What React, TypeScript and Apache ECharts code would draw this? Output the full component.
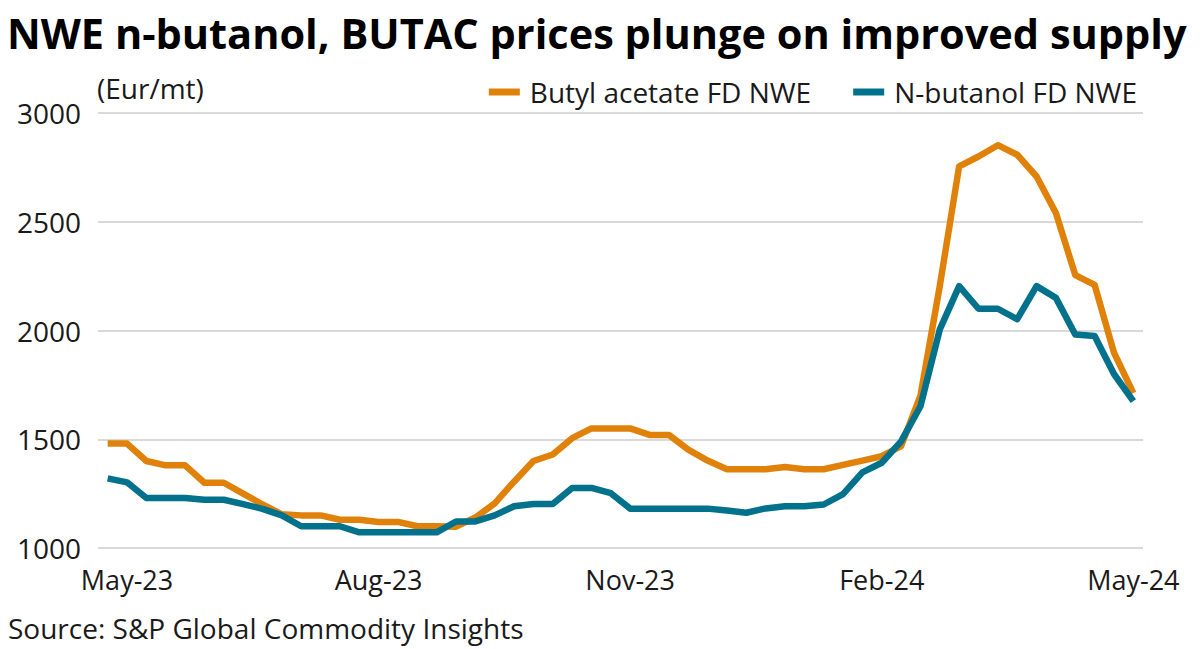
import React, { useEffect, useRef } from "react";
import * as echarts from "echarts";

const weeks = [
  "2023-04-28", "2023-05-05", "2023-05-12", "2023-05-19", "2023-05-26", "2023-06-02", "2023-06-09",
  "2023-06-16", "2023-06-23", "2023-06-30", "2023-07-07", "2023-07-14", "2023-07-21", "2023-07-28",
  "2023-08-04", "2023-08-11", "2023-08-18", "2023-08-25", "2023-09-01", "2023-09-08", "2023-09-15",
  "2023-09-22", "2023-09-29", "2023-10-06", "2023-10-13", "2023-10-20", "2023-10-27", "2023-11-03",
  "2023-11-10", "2023-11-17", "2023-11-24", "2023-12-01", "2023-12-08", "2023-12-15", "2023-12-22",
  "2023-12-29", "2024-01-05", "2024-01-12", "2024-01-19", "2024-01-26", "2024-02-02", "2024-02-09",
  "2024-02-16", "2024-02-23", "2024-03-01", "2024-03-08", "2024-03-15", "2024-03-22", "2024-03-29",
  "2024-04-05", "2024-04-12", "2024-04-19", "2024-04-26", "2024-05-03",
];

const butylAcetate = [
  1480, 1480, 1400, 1380, 1380, 1300, 1300, 1250, 1200, 1155, 1150, 1150, 1130, 1130,
  1120, 1120, 1100, 1100, 1098, 1140, 1205, 1305, 1400, 1430, 1505, 1550, 1550, 1550,
  1520, 1520, 1452, 1402, 1362, 1362, 1362, 1372, 1362, 1362, 1382, 1402, 1422, 1468,
  1700, 2205, 2755, 2800, 2852, 2808, 2708, 2540, 2255, 2210, 1898, 1712,
];

const nButanol = [
  1320, 1302, 1230, 1230, 1230, 1222, 1222, 1202, 1180, 1150, 1100, 1100, 1100, 1072,
  1072, 1072, 1072, 1072, 1122, 1122, 1150, 1192, 1202, 1202, 1276, 1276, 1252, 1181,
  1181, 1181, 1181, 1181, 1172, 1162, 1182, 1192, 1192, 1200, 1248, 1348, 1392, 1490,
  1652, 2005, 2204, 2100, 2100, 2052, 2204, 2150, 1982, 1975, 1800, 1675,
];

const tickIndices = [1, 14, 27, 40, 53];
const tickLabels = ["May-23", "Aug-23", "Nov-23", "Feb-24", "May-24"];

const FONT = "'Open Sans', Roboto, sans-serif";
const TEXT = "#1a1a1a";
const ORANGE = "#E0820A";
const BLUE = "#02718B";

export default function App() {
  const ref = useRef<HTMLDivElement>(null);
  useEffect(() => {
    if (!ref.current) return;
    const chart = echarts.init(ref.current, null, { renderer: "svg" });
    chart.setOption({
      animation: false,
      backgroundColor: "#ffffff",
      textStyle: { fontFamily: FONT },
      grid: { left: 98, right: 57, top: 113, bottom: 101, containLabel: false },
      legend: {
        top: 73,
        right: 58,
        itemWidth: 31,
        itemHeight: 7,
        itemGap: 42,
        icon: "rect",
        textStyle: { fontFamily: FONT, fontSize: 28, lineHeight: 28, color: TEXT, padding: [0, 0, 0, 5] },
        data: ["Butyl acetate FD NWE", "N-butanol FD NWE"],
      },
      graphic: [
        {
          type: "text",
          x: 7,
          y: 33,
          style: {
            text: "NWE n-butanol, BUTAC prices plunge on improved supply",
            font: `bold 41.5px ${FONT}`,
            fill: "#000",
            textAlign: "left",
            textVerticalAlign: "middle",
          },
        },
        {
          type: "text",
          x: 97,
          y: 88,
          style: {
            text: "(Eur/mt)",
            font: `28px ${FONT}`,
            fill: TEXT,
            textAlign: "left",
            textVerticalAlign: "middle",
          },
        },
        {
          type: "text",
          x: 8,
          y: 628,
          style: {
            text: "Source: S&P Global Commodity Insights",
            font: `28px ${FONT}`,
            fill: TEXT,
            textAlign: "left",
            textVerticalAlign: "middle",
          },
        },
      ],
      xAxis: {
        type: "category",
        data: weeks,
        boundaryGap: true,
        axisLine: { show: false },
        axisTick: { show: false },
        axisLabel: {
          interval: (index: number) => tickIndices.includes(index),
          formatter: (_v: string, index: number) => {
            const k = tickIndices.indexOf(index);
            return k >= 0 ? tickLabels[k] : "";
          },
          fontFamily: FONT,
          fontSize: 27,
          color: TEXT,
          margin: 18,
        },
      },
      yAxis: {
        type: "value",
        min: 1000,
        max: 3000,
        interval: 500,
        axisLine: { show: false },
        axisTick: { show: false },
        splitLine: { lineStyle: { color: "#d9d9d9", width: 2 } },
        axisLabel: {
          formatter: (v: number) => String(v),
          fontFamily: FONT,
          fontSize: 28,
          color: TEXT,
          margin: 17,
          padding: [10, 0, 0, 0],
        },
      },
      series: [
        {
          name: "Butyl acetate FD NWE",
          type: "line",
          data: butylAcetate,
          showSymbol: false,
          symbol: "none",
          lineStyle: { color: ORANGE, width: 6.5, join: "round" },
          itemStyle: { color: ORANGE },
        },
        {
          name: "N-butanol FD NWE",
          type: "line",
          data: nButanol,
          showSymbol: false,
          symbol: "none",
          lineStyle: { color: BLUE, width: 6.5, join: "round" },
          itemStyle: { color: BLUE },
        },
      ],
    });
    return () => chart.dispose();
  }, []);
  return <div ref={ref} style={{ width: 1200, height: 649, position: "absolute", left: 0, top: 0 }} />;
}
